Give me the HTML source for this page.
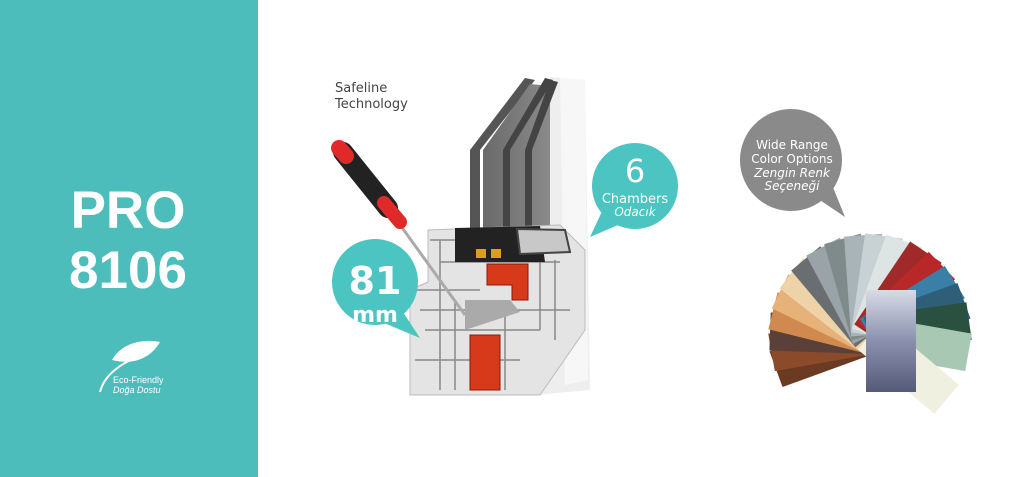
<!DOCTYPE html>
<html><head><meta charset="utf-8"><style>
html,body{margin:0;padding:0;width:1024px;height:477px;overflow:hidden;background:#fff}
svg{display:block}
text{font-family:"DejaVu Sans","Liberation Sans",sans-serif}
</style></head><body>
<svg width="1024" height="477" viewBox="0 0 1024 477">
<defs>
<linearGradient id="gl" x1="0" x2="1"><stop offset="0" stop-color="#6a6a6a"/><stop offset="1" stop-color="#8a8a8a"/></linearGradient>
<linearGradient id="card" x1="0" y1="0" x2="0" y2="1"><stop offset="0" stop-color="#d8dbe6"/><stop offset="0.5" stop-color="#8a90ae"/><stop offset="1" stop-color="#555a78"/></linearGradient>
</defs>
<rect x="0" y="0" width="258" height="477" fill="#4dbdbb"/>
<text x="128" y="228" font-weight="bold" font-size="53" fill="#fff" text-anchor="middle" style="font-family:'Liberation Sans',sans-serif">PRO</text>
<text x="128" y="288" font-weight="bold" font-size="53" fill="#fff" text-anchor="middle" style="font-family:'Liberation Sans',sans-serif">8106</text>
<path d="M112 360 C120 345 140 338 160 342 C152 356 136 366 112 360 Z" fill="#fff"/>
<path d="M100 392 C104 376 120 362 150 352" stroke="#fff" stroke-width="2" fill="none"/>
<text x="113" y="383" font-size="9" fill="#fff" style="font-family:'Liberation Sans',sans-serif">Eco-Friendly</text>
<text x="113" y="393" font-size="9" fill="#fff" font-style="italic" style="font-family:'Liberation Sans',sans-serif">Doğa Dostu</text>

<text x="335" y="92" font-size="13" fill="#444">Safeline</text>
<text x="335" y="108" font-size="13" fill="#444">Technology</text>

<polygon points="550,77 585,80 590,390 535,395" fill="#eeeeee"/>
<polygon points="560,78 585,80 588,380 565,385" fill="#f7f7f7"/>
<polygon points="470,150 525,78 535,80 480,150 480,235 470,235" fill="#555"/>
<polygon points="483,150 530,84 550,86 550,232 483,232" fill="url(#gl)"/>
<polygon points="503,150 545,78 553,80 510,150 510,232 503,232" fill="#444"/>
<polygon points="525,150 550,80 558,82 532,150 532,232 525,232" fill="#444"/>
<polygon points="428,230 560,225 585,250 585,330 540,395 410,395 410,290 428,282" fill="#e4e4e4" stroke="#bbb"/>
<g stroke="#888" stroke-width="1.5" fill="none">
<path d="M430 240 H560 M440 262 H560 M415 290 H480 M420 310 H570 M425 330 H540 M415 360 H520 M440 240 V390 M455 300 V390 M505 300 V390 M540 260 V330 M555 260 V340"/>
</g>
<polygon points="455,228 540,226 545,262 455,262" fill="#222"/>
<rect x="476" y="249" width="10" height="9" fill="#d9a020"/>
<rect x="491" y="249" width="10" height="9" fill="#d9a020"/>
<polygon points="517,229 565,230 570,252 520,254" fill="#c8c8c8" stroke="#444" stroke-width="2"/>
<path d="M487 264 H528 V300 H512 V285 H487 Z" fill="#d63a1a" stroke="#8a1a0a"/>
<rect x="470" y="335" width="30" height="55" fill="#d63a1a" stroke="#8a1a0a"/>
<path d="M465 300 H510 L520 312 L465 330 Z" fill="#aaa"/>
<line x1="398" y1="222" x2="465" y2="315" stroke="#aaa" stroke-width="3"/>
<line x1="343" y1="152" x2="388" y2="208" stroke="#222" stroke-width="20" stroke-linecap="round"/>
<line x1="339" y1="148" x2="346" y2="156" stroke="#e02a2a" stroke-width="16" stroke-linecap="round"/>
<line x1="384" y1="203" x2="400" y2="222" stroke="#e02a2a" stroke-width="14" stroke-linecap="round"/>

<polygon points="395,300 420,338 372,318" fill="#4cc4c2"/>
<circle cx="375" cy="282" r="43" fill="#4cc4c2"/>
<text x="375" y="294" font-size="38" fill="#fff" text-anchor="middle" font-weight="bold">81</text>
<text x="375" y="322" font-size="22" fill="#fff" text-anchor="middle" font-weight="bold">mm</text>
<polygon points="605,205 590,237 625,222" fill="#4cc4c2"/>
<circle cx="635" cy="186" r="43" fill="#4cc4c2"/>
<text x="635" y="182" font-size="32" fill="#fff" text-anchor="middle">6</text>
<text x="635" y="203" font-size="13" fill="#fff" text-anchor="middle">Chambers</text>
<text x="635" y="216" font-size="12" fill="#fff" text-anchor="middle" font-style="italic">Odacık</text>
<polygon points="805,190 845,217 830,180" fill="#8a8a8a"/>
<circle cx="791" cy="160" r="51" fill="#8a8a8a"/>
<text x="792" y="149" font-size="12" fill="#fff" text-anchor="middle">Wide Range</text>
<text x="792" y="163" font-size="12" fill="#fff" text-anchor="middle">Color Options</text>
<text x="792" y="177" font-size="12" fill="#fff" text-anchor="middle" font-style="italic">Zengin Renk</text>
<text x="792" y="190" font-size="12" fill="#fff" text-anchor="middle" font-style="italic">Seçeneği</text>

<g transform="translate(870,335)">
<rect x="-19" y="-100" width="38" height="100" fill="#6a3a22" transform="rotate(-110)"/>
<rect x="-19" y="-100" width="38" height="100" fill="#8b4a2a" transform="rotate(-100)"/>
<rect x="-19" y="-100" width="38" height="100" fill="#5a4038" transform="rotate(-88)"/>
<rect x="-19" y="-100" width="38" height="100" fill="#d08a50" transform="rotate(-76)"/>
<rect x="-19" y="-100" width="38" height="100" fill="#e6b27a" transform="rotate(-64)"/>
<rect x="-19" y="-100" width="38" height="100" fill="#efd3a8" transform="rotate(-52)"/>
<rect x="-19" y="-100" width="38" height="100" fill="#6a6e70" transform="rotate(-40)"/>
<rect x="-19" y="-100" width="38" height="100" fill="#9aa4a8" transform="rotate(-28)"/>
<rect x="-19" y="-100" width="38" height="100" fill="#7f8a8a" transform="rotate(-16)"/>
<rect x="-19" y="-100" width="38" height="100" fill="#a8b4b8" transform="rotate(-4)"/>
<rect x="-19" y="-100" width="38" height="100" fill="#c8d2d4" transform="rotate(8)"/>
<rect x="-19" y="-100" width="38" height="100" fill="#dde4e4" transform="rotate(20)"/>
<rect x="-19" y="-100" width="38" height="100" fill="#a02a2a" transform="rotate(34)"/>
<rect x="-19" y="-100" width="38" height="100" fill="#b82828" transform="rotate(46)"/>
<rect x="-19" y="-100" width="38" height="100" fill="#3a7fa8" transform="rotate(58)"/>
<rect x="-19" y="-100" width="38" height="100" fill="#2f5f78" transform="rotate(70)"/>
<rect x="-19" y="-100" width="38" height="100" fill="#2a5040" transform="rotate(82)"/>
<rect x="-19" y="-100" width="38" height="100" fill="#a8c8b4" transform="rotate(100)"/>
<rect x="-19" y="-100" width="38" height="100" fill="#f0f0e0" transform="rotate(130)"/>
</g>
<rect x="866" y="290" width="50" height="102" fill="url(#card)"/>
</svg>
</body></html>
